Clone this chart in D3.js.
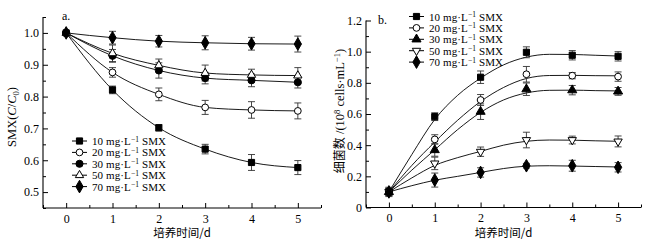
<!DOCTYPE html>
<html><head><meta charset="utf-8">
<script src="https://cdn.jsdelivr.net/npm/d3@7"></script>
<style>
body{margin:0;background:#fff;}
text{font-family:"Liberation Serif","Times New Roman","Noto Sans CJK SC",serif;fill:#000;}
</style></head>
<body><svg id="c" width="653" height="245"></svg>
<script>
// ---------- data ----------
const days = [0, 1, 2, 3, 4, 5];
const seriesNames = ["10", "20", "30", "50", "70"];
// Panel a: SMX C/C0
const a10 = [1.0, 0.821, 0.702, 0.635, 0.593, 0.577];
const a20 = [1.0, 0.876, 0.807, 0.766, 0.758, 0.755];
const a30 = [1.0, 0.928, 0.882, 0.858, 0.851, 0.845];
const a50 = [1.0, 0.936, 0.898, 0.874, 0.868, 0.866];
const a70 = [1.0, 0.985, 0.974, 0.969, 0.966, 0.965];
const aErr10 = [0.004, 0.012, 0.010, 0.015, 0.025, 0.022];
const aErr20 = [0.004, 0.015, 0.020, 0.022, 0.026, 0.025];
const aErr30 = [0.004, 0.020, 0.024, 0.018, 0.020, 0.018];
const aErr50 = [0.004, 0.026, 0.020, 0.025, 0.018, 0.025];
const aErr70 = [0.004, 0.020, 0.018, 0.022, 0.020, 0.025];
// Panel b: cell counts (10^8 cells/mL)
const b10 = [0.100, 0.583, 0.836, 0.996, 0.977, 0.970];
const b20 = [0.100, 0.437, 0.690, 0.855, 0.846, 0.840];
const b30 = [0.100, 0.369, 0.615, 0.759, 0.753, 0.745];
const b50 = [0.100, 0.283, 0.358, 0.433, 0.433, 0.424];
const b70 = [0.100, 0.176, 0.225, 0.268, 0.268, 0.258];
const bErr10 = [0.025, 0.025, 0.040, 0.035, 0.030, 0.030];
const bErr20 = [0.020, 0.030, 0.035, 0.050, 0.020, 0.030];
const bErr30 = [0.020, 0.040, 0.050, 0.040, 0.030, 0.025];
const bErr50 = [0.020, 0.040, 0.030, 0.050, 0.025, 0.035];
const bErr70 = [0.030, 0.045, 0.030, 0.015, 0.035, 0.030];
// Panel b fitted curves
const fitX = [0, 0.5, 1, 1.5, 2, 2.5, 3, 3.5, 4, 4.5, 5];
const fit10 = [0.10, 0.34, 0.565, 0.72, 0.83, 0.915, 0.965, 0.983, 0.982, 0.977, 0.972];
const fit20 = [0.10, 0.27, 0.42, 0.56, 0.68, 0.77, 0.828, 0.847, 0.848, 0.846, 0.845];
const fit30 = [0.10, 0.24, 0.37, 0.50, 0.61, 0.69, 0.735, 0.752, 0.753, 0.750, 0.748];
const fit50 = [0.10, 0.19, 0.27, 0.32, 0.36, 0.40, 0.425, 0.433, 0.432, 0.428, 0.425];
const fit70 = [0.10, 0.14, 0.175, 0.20, 0.225, 0.25, 0.265, 0.268, 0.266, 0.263, 0.26];
const aTicks = [0.5, 0.6, 0.7, 0.8, 0.9, 1.0];
const bTicks = [0, 0.2, 0.4, 0.6, 0.8, 1.0, 1.2];

const svg = d3.select("#c");
const FS = 11;

function sym(type, size){ return d3.symbol().type(type).size(size)(); }
const markA = [
  {t:d3.symbolSquare, s:38, fill:"#000"},
  {t:d3.symbolCircle, s:36, fill:"#fff"},
  {t:d3.symbolCircle, s:40, fill:"#000"},
  {t:d3.symbolTriangle, s:30, fill:"#fff"},
  {t:d3.symbolDiamond, s:46, fill:"#000"}
];
const markB = [
  {t:d3.symbolSquare, s:38, fill:"#000"},
  {t:d3.symbolCircle, s:36, fill:"#fff"},
  {t:d3.symbolTriangle, s:36, fill:"#000"},
  {t:d3.symbolTriangle, s:30, fill:"#fff", rot:180},
  {t:d3.symbolDiamond, s:46, fill:"#000"}
];

function drawPanel(cfg){
  const g = svg.append("g");
  const x = d3.scaleLinear().domain([-0.5, 5.5]).range([cfg.x0, cfg.x1]);
  const y = d3.scaleLinear().domain(cfg.yDom).range([cfg.y0, cfg.y1]);
  // axes with inward ticks
  const xa = g.append("g").attr("transform", `translate(0,${cfg.y0})`)
    .call(d3.axisBottom(x).tickValues(days).tickSize(-5).tickPadding(6).tickFormat(d3.format("d")));
  g.append("g").attr("transform", `translate(0,${cfg.y0})`)
    .call(d3.axisBottom(x).tickValues([-0.5,0.5,1.5,2.5,3.5,4.5,5.5]).tickSize(-3).tickFormat(""))
    .select(".domain").remove();
  const ya = g.append("g").attr("transform", `translate(${cfg.x0},0)`)
    .call(d3.axisLeft(y).tickValues(cfg.ticks).tickSize(-5).tickPadding(4).tickFormat(cfg.fmt));
  g.append("g").attr("transform", `translate(${cfg.x0},0)`)
    .call(d3.axisLeft(y).tickValues(cfg.minor).tickSize(-3).tickFormat(""))
    .select(".domain").remove();
  g.selectAll(".domain").attr("stroke","#000").attr("stroke-width",1.1);
  g.selectAll(".tick line").attr("stroke","#000");
  g.selectAll(".tick text").style("font-size", "12px").style("font-family","Liberation Serif");
  xa.selectAll(".domain").attr("d", `M${cfg.x0},0H${cfg.x1}`);
  ya.selectAll(".domain").attr("d", `M0,${cfg.y0}V${cfg.y1}`);

  const line = d3.line().x(d=>x(d[0])).y(d=>y(d[1])).curve(d3.curveMonotoneX);
  // lines
  cfg.series.forEach((s,i)=>{
    const pts = cfg.fit ? fitX.map((xx,j)=>[xx, cfg.fit[i][j]]) : days.map((d,j)=>[d, s[j]]);
    g.append("path").attr("d", line(pts)).attr("fill","none").attr("stroke","#000").attr("stroke-width",0.9);
  });
  // error bars
  cfg.series.forEach((s,i)=>{
    days.forEach((d,j)=>{
      const e = cfg.errs[i][j], cx = x(d);
      const eg = g.append("g").attr("stroke","#333").attr("stroke-width",0.9);
      eg.append("line").attr("x1",cx).attr("x2",cx).attr("y1",y(s[j]-e)).attr("y2",y(s[j]+e));
      eg.append("line").attr("x1",cx-3.5).attr("x2",cx+3.5).attr("y1",y(s[j]-e)).attr("y2",y(s[j]-e));
      eg.append("line").attr("x1",cx-3.5).attr("x2",cx+3.5).attr("y1",y(s[j]+e)).attr("y2",y(s[j]+e));
    });
  });
  // markers
  cfg.series.forEach((s,i)=>{
    const m = cfg.marks[i];
    days.forEach((d,j)=>{
      g.append("path").attr("d", sym(m.t, m.s))
        .attr("transform", `translate(${x(d)},${y(s[j])}) rotate(${m.rot||0})`)
        .attr("fill", m.fill).attr("stroke","#000").attr("stroke-width",1);
    });
  });
  // legend
  seriesNames.forEach((n,i)=>{
    const ly = cfg.legY + i*cfg.legDy;
    const m = cfg.marks[i];
    g.append("line").attr("x1",cfg.legX).attr("x2",cfg.legX+15).attr("y1",ly).attr("y2",ly)
      .attr("stroke","#000").attr("stroke-width",1);
    g.append("path").attr("d", sym(m.t, m.s))
      .attr("transform", `translate(${cfg.legX+7.5},${ly}) rotate(${m.rot||0})`)
      .attr("fill", m.fill).attr("stroke","#000");
    const t = g.append("text").attr("x", cfg.legX+20).attr("y", ly+4).style("font-size", FS+"px")
      .attr("textLength", 74).attr("lengthAdjust","spacing");
    t.append("tspan").text(n + " mg·L");
    t.append("tspan").attr("dy",-3.5).style("font-size","7.5px").text("−1");
    t.append("tspan").attr("dy",3.5).text(" SMX");
  });
  // panel letter
  g.append("text").attr("x",cfg.letX).attr("y",cfg.letY).style("font-size","12px").text(cfg.letter);
  // x label
  g.append("text").attr("x",(x(0)+x(5))/2).attr("y",237).attr("text-anchor","middle")
    .style("font-size","11.5px").style("font-family","'Noto Sans CJK SC',sans-serif").text("培养时间/d");
  return {g, x, y};
}

const pa = drawPanel({
  x0:43, x1:321, y0:208, y1:17, yDom:[0.45, 1.05], ticks:aTicks,
  minor:[0.45,0.55,0.65,0.75,0.85,0.95,1.05], fmt:d3.format(".1f"),
  series:[a10,a20,a30,a50,a70], errs:[aErr10,aErr20,aErr30,aErr50,aErr70],
  marks:markA, legX:72, legY:141, legDy:11.4, letter:"a.", letX:62, letY:20
});
const pb = drawPanel({
  x0:366, x1:641, y0:207.5, y1:20.5, yDom:[0, 1.2], ticks:bTicks,
  minor:[0.1,0.3,0.5,0.7,0.9,1.1], fmt:d=> d===0 ? "0" : d3.format(".1f")(d),
  series:[b10,b20,b30,b50,b70], errs:[bErr10,bErr20,bErr30,bErr50,bErr70],
  fit:[fit10,fit20,fit30,fit50,fit70],
  marks:markB, legX:409, legY:16.5, legDy:11.4, letter:"b.", letX:378, letY:24
});

// y labels
const la = svg.append("text").attr("transform","translate(16,117) rotate(-90)")
  .attr("text-anchor","middle").style("font-size","12.5px");
la.append("tspan").text("SMX(");
la.append("tspan").style("font-style","italic").text("C");
la.append("tspan").text("/");
la.append("tspan").style("font-style","italic").text("C");
la.append("tspan").attr("dy",3).style("font-size","8.5px").text("0");
la.append("tspan").attr("dy",-3).text(")");

const lb = svg.append("text").attr("transform","translate(344,111) rotate(-90)")
  .attr("text-anchor","middle").style("font-size","12.5px");
lb.append("tspan").style("font-family","'Noto Sans CJK SC',sans-serif").style("font-size","12px").text("细菌数");
lb.append("tspan").text(" /(10");
lb.append("tspan").attr("dy",-4.5).style("font-size","8.5px").text("8");
lb.append("tspan").attr("dy",4.5).text(" cells·mL");
lb.append("tspan").attr("dy",-4.5).style("font-size","8.5px").text("−1");
lb.append("tspan").attr("dy",4.5).text(")");
</script></body></html>
